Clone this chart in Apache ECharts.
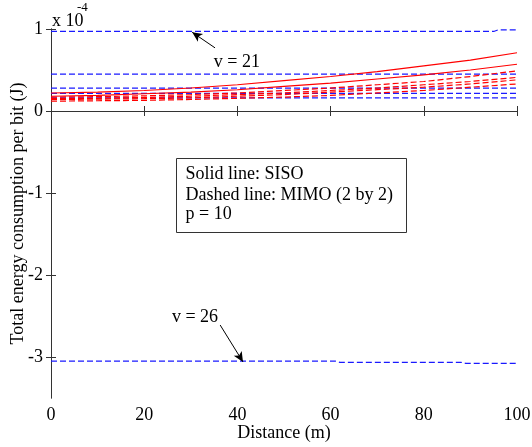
<!DOCTYPE html>
<html>
<head>
<meta charset="utf-8">
<script src="https://cdn.jsdelivr.net/npm/echarts@6/dist/echarts.min.js"></script>
<style>
  html, body { margin: 0; padding: 0; background: #fff; }
  #chart { width: 532px; height: 447px; }
</style>
</head>
<body>
<div id="chart"></div>
<script>
// Distance samples (m)
const distance = [0, 10, 20, 30, 40, 50, 60, 70, 80, 90, 100];

// Energy per bit, in units of 1e-4 J
// SISO curves (solid red)
const sisoA = [0.22, 0.23, 0.25, 0.28, 0.32, 0.37, 0.42, 0.48, 0.55, 0.62, 0.71];
const sisoB = [0.18, 0.19, 0.21, 0.23, 0.26, 0.30, 0.34, 0.39, 0.44, 0.50, 0.57];

// MIMO curves (dashed red)
const mimoA = [0.17, 0.175, 0.185, 0.20, 0.22, 0.25, 0.28, 0.32, 0.36, 0.42, 0.49];
const mimoB = [0.15, 0.155, 0.165, 0.18, 0.20, 0.22, 0.25, 0.28, 0.32, 0.36, 0.41];
const mimoC = [0.14, 0.145, 0.15, 0.16, 0.18, 0.20, 0.23, 0.26, 0.29, 0.33, 0.38];
const mimoD = [0.12, 0.125, 0.13, 0.14, 0.155, 0.17, 0.19, 0.22, 0.25, 0.29, 0.33];

// Dashed blue levels for v = 21 ... 26
const v21X = [0, 95, 96, 100];
const v21Y = [0.97, 0.97, 0.99, 0.99];
const v22Y = [0.45, 0.45];
const v23Y = [0.28, 0.28];
const v24Y = [0.215, 0.215];
const v25Y = [0.16, 0.16];
const flatX = [0, 100];
const v26X = [0, 61, 62, 88, 89, 100];
const v26Y = [-3.05, -3.05, -3.065, -3.065, -3.078, -3.078];

// Y tick labels
const yTicks = [-3, -2, -1, 0, 1];

// Annotation arrows: [tail, tip] and text anchors, in data units
const arrow21 = [[35.2, 0.77], [30.3, 0.96]];
const arrow26 = [[36.3, -2.61], [41.2, -3.06]];
const label21 = [39.9, 0.60];
const label26 = [30.9, -2.52];

const FONT = 'Liberation Serif';
const zip = (xs, ys) => xs.map((x, i) => [x, ys[i]]);
const BLUE = '#1a1aff';
const RED = '#ff0000';

function lineSeries(xs, ys, color, dashed, extra) {
  return Object.assign({
    type: 'line',
    data: zip(xs, ys),
    showSymbol: false,
    symbol: 'none',
    silent: true,
    animation: false,
    lineStyle: { color: color, width: dashed ? 1.2 : 1.1, type: dashed ? [6, 3] : 'solid' },
    z: 3
  }, extra || {});
}

const axisLineStyle = { show: true, lineStyle: { color: '#333', width: 1 } };
const labelStyle = { color: '#000', fontFamily: FONT, fontSize: 18 };
const tickStyle = { show: true, inside: true, length: 5, lineStyle: { color: '#333' } };

const chart = echarts.init(document.getElementById('chart'), null, { renderer: 'canvas' });

chart.setOption({
  animation: false,
  backgroundColor: '#fff',
  grid: { left: 51, right: 15, top: 29, bottom: 49, containLabel: false, outerBoundsMode: 'none' },
  xAxis: [
    {
      type: 'value', min: 0, max: 100, interval: 20, position: 'bottom',
      axisLine: axisLineStyle,
      axisTick: tickStyle,
      axisLabel: Object.assign({ margin: 8 }, labelStyle),
      splitLine: { show: false },
      name: 'Distance (m)', nameLocation: 'middle', nameGap: 26, nameMoveOverlap: false,
      nameTextStyle: labelStyle
    },
    {
      type: 'value', min: 0, max: 100, interval: 20, position: 'top',
      axisLine: axisLineStyle,
      axisTick: tickStyle,
      axisLabel: { show: false },
      splitLine: { show: false }
    }
  ],
  yAxis: [
    {
      type: 'value', min: -3.5, max: 1, position: 'left',
      axisLine: axisLineStyle,
      axisTick: Object.assign({ customValues: yTicks }, tickStyle),
      axisLabel: Object.assign({ margin: 8, customValues: yTicks }, labelStyle),
      splitLine: { show: false },
      name: 'Total energy consumption per bit (J)', nameLocation: 'middle', nameGap: 24, nameMoveOverlap: false,
      nameTextStyle: labelStyle
    },
    {
      type: 'value', min: -3.5, max: 1, position: 'right',
      axisLine: axisLineStyle,
      axisTick: Object.assign({ customValues: yTicks }, tickStyle),
      axisLabel: { show: false },
      splitLine: { show: false }
    }
  ],
  series: [
    lineSeries(flatX, v22Y, BLUE, true),
    lineSeries(flatX, v23Y, BLUE, true),
    lineSeries(flatX, v24Y, BLUE, true),
    lineSeries(flatX, v25Y, BLUE, true),
    lineSeries(distance, mimoD, RED, true),
    lineSeries(distance, mimoC, RED, true),
    lineSeries(distance, mimoB, RED, true),
    lineSeries(distance, mimoA, RED, true),
    lineSeries(distance, sisoB, RED, false),
    lineSeries(distance, sisoA, RED, false),
    lineSeries(v21X, v21Y, BLUE, true, {
      markLine: {
        silent: true, animation: false,
        symbol: ['none', 'arrow'], symbolSize: [7, 10],
        label: { show: false },
        lineStyle: { color: '#000', width: 1, type: 'solid' },
        data: [
          [{ coord: arrow21[0] }, { coord: arrow21[1] }],
          [{ coord: arrow26[0] }, { coord: arrow26[1] }]
        ]
      },
      markPoint: {
        silent: true, animation: false,
        symbol: 'circle', symbolSize: 1,
        itemStyle: { color: 'rgba(0,0,0,0)' },
        label: { show: true, position: 'inside', color: '#000', fontFamily: FONT, fontSize: 18 },
        data: [
          { coord: label21, label: { formatter: 'v = 21' } },
          { coord: label26, label: { formatter: 'v = 26' } }
        ]
      }
    }),
    lineSeries(v26X, v26Y, BLUE, true)
  ],
  graphic: [
    // Axis multiplier
    { type: 'text', left: 52, top: 12, style: { text: 'x 10', fill: '#000', font: '18px "Liberation Serif"' } },
    { type: 'text', left: 77, top: 1, style: { text: '-4', fill: '#000', font: '13px "Liberation Serif"' } },
    // Note box
    {
      type: 'group', left: 176, top: 158,
      children: [
        { type: 'rect', shape: { x: 0, y: 0, width: 230, height: 74 },
          style: { fill: '#fff', stroke: '#333', lineWidth: 1 } },
        { type: 'text', x: 9, y: 7, style: { text: 'Solid line: SISO', fill: '#000', font: '18px "Liberation Serif"' } },
        { type: 'text', x: 9, y: 28, style: { text: 'Dashed line: MIMO (2 by 2)', fill: '#000', font: '18px "Liberation Serif"' } },
        { type: 'text', x: 9, y: 47, style: { text: 'p = 10', fill: '#000', font: '18px "Liberation Serif"' } }
      ]
    }
  ]
});
</script>
</body>
</html>
